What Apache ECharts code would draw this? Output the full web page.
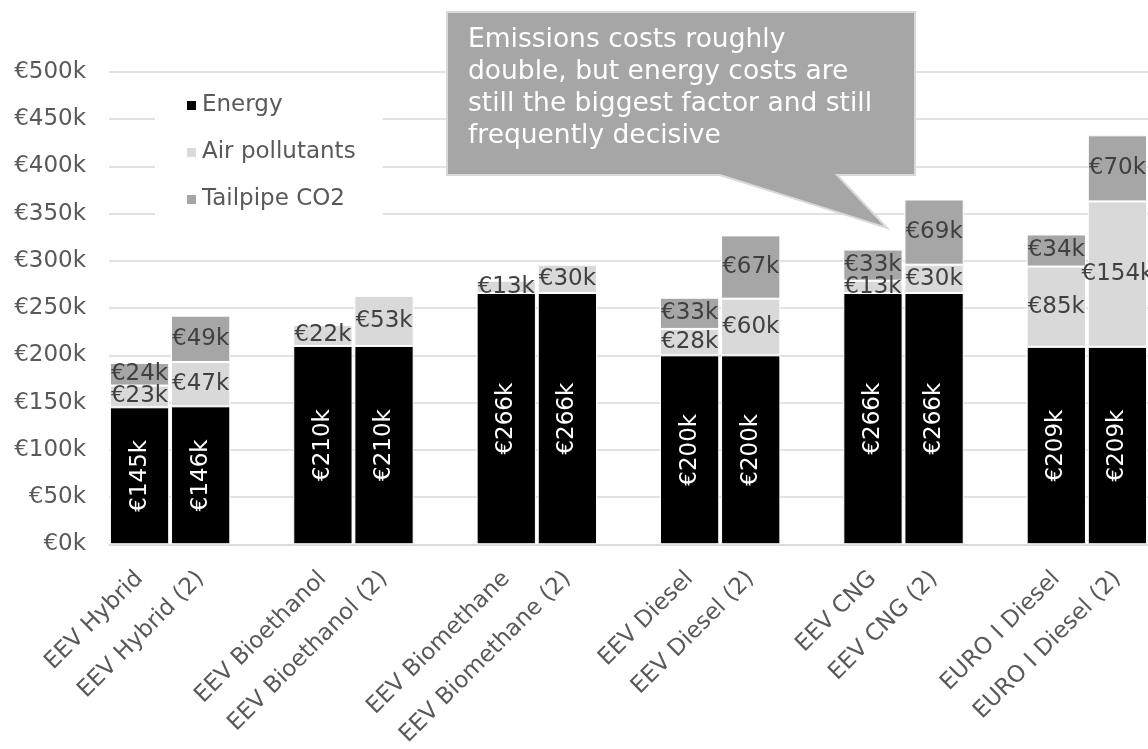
<!DOCTYPE html>
<html>
<head>
<meta charset="utf-8">
<script src="https://cdn.jsdelivr.net/npm/echarts@6/dist/echarts.min.js"></script>
<style>html,body{margin:0;padding:0;background:#fff;}#c{width:1148px;height:749px;}</style>
</head>
<body>
<div id="c"></div>
<script>
const categories = ['EEV Hybrid','EEV Hybrid (2)','EEV Bioethanol','EEV Bioethanol (2)','EEV Biomethane','EEV Biomethane (2)','EEV Diesel','EEV Diesel (2)','EEV CNG','EEV CNG (2)','EURO I Diesel','EURO I Diesel (2)'];
const energy = [145,146,210,210,266,266,200,200,266,266,209,209];
const airPollutants = [23,47,22,53,13,30,28,60,13,30,85,154];
const tailpipeCO2 = [24,49,null,null,null,null,33,67,33,69,34,70];
const yTicks = {min:0, max:500, interval:50};
const calloutText = 'Emissions costs roughly\ndouble, but energy costs are\nstill the biggest factor and still\nfrequently decisive';

// insert an empty category after each pair
function withGaps(arr, blank){
  const out = [];
  arr.forEach((v,i)=>{ out.push(v); if(i%2===1 && i<arr.length-1) out.push(blank(i)); });
  return out;
}
const cats = withGaps(categories, i=>' '.repeat(i));
const mk = a => withGaps(a.map(v=> v==null?'-':v), ()=>'-');

const FONT = 'DejaVu Sans';
const FS = 23;
const chart = echarts.init(document.getElementById('c'));
const lbl = (color, rotate) => ({
  show:true, position:'inside', color:color, fontFamily:FONT, fontSize:FS,
  rotate:rotate||0, formatter: p => '€' + p.value + 'k'
});
chart.setOption({
  animation:false,
  textStyle:{fontFamily:FONT},
  grid:{left:109, right:0, top:72, bottom:204, containLabel:false},
  legend:{
    orient:'vertical', left:155, top:86, padding:[8,27,8,30],
    backgroundColor:'#fff', itemWidth:11, itemHeight:11, itemGap:24,
    icon:'rect',
    textStyle:{color:'#595959', fontSize:FS, fontFamily:FONT},
    data:['Energy','Air pollutants','Tailpipe CO2']
  },
  xAxis:{
    type:'category', data:cats,
    axisTick:{show:false},
    axisLine:{lineStyle:{color:'#d9d9d9', width:1.5}},
    axisLabel:{interval:0, rotate:45, color:'#595959', fontSize:FS, fontFamily:FONT, margin:31, padding:[40,0,0,0]}
  },
  yAxis:{
    type:'value', min:yTicks.min, max:yTicks.max, interval:yTicks.interval,
    axisLine:{show:false}, axisTick:{show:false},
    axisLabel:{color:'#595959', fontSize:FS, fontFamily:FONT, margin:23, formatter:v=>'€'+v+'k'},
    splitLine:{lineStyle:{color:'#d9d9d9', width:1.5}}
  },
  series:[
    {name:'Energy', type:'bar', stack:'s', data:mk(energy), barCategoryGap:'3%',
     itemStyle:{color:'#000', borderColor:'#fff', borderWidth:1}, label:lbl('#fff',90)},
    {name:'Air pollutants', type:'bar', stack:'s', data:mk(airPollutants),
     itemStyle:{color:'#d9d9d9', borderColor:'#fff', borderWidth:1}, label:lbl('#404040')},
    {name:'Tailpipe CO2', type:'bar', stack:'s', data:mk(tailpipeCO2),
     itemStyle:{color:'#a6a6a6', borderColor:'#fff', borderWidth:1}, label:lbl('#404040')}
  ],
  graphic:[
    {type:'polygon', z:100,
     shape:{points:[[447,12],[915,12],[915,175],[837,175],[887,228],[720,175],[447,175]]},
     style:{fill:'#a6a6a6', stroke:'#d9d9d9', lineWidth:2}},
    {type:'text', z:101, left:468, top:24,
     style:{text:calloutText, fill:'#fff', font:'26.5px "DejaVu Sans"', lineHeight:32}}
  ]
});
</script>
</body>
</html>
